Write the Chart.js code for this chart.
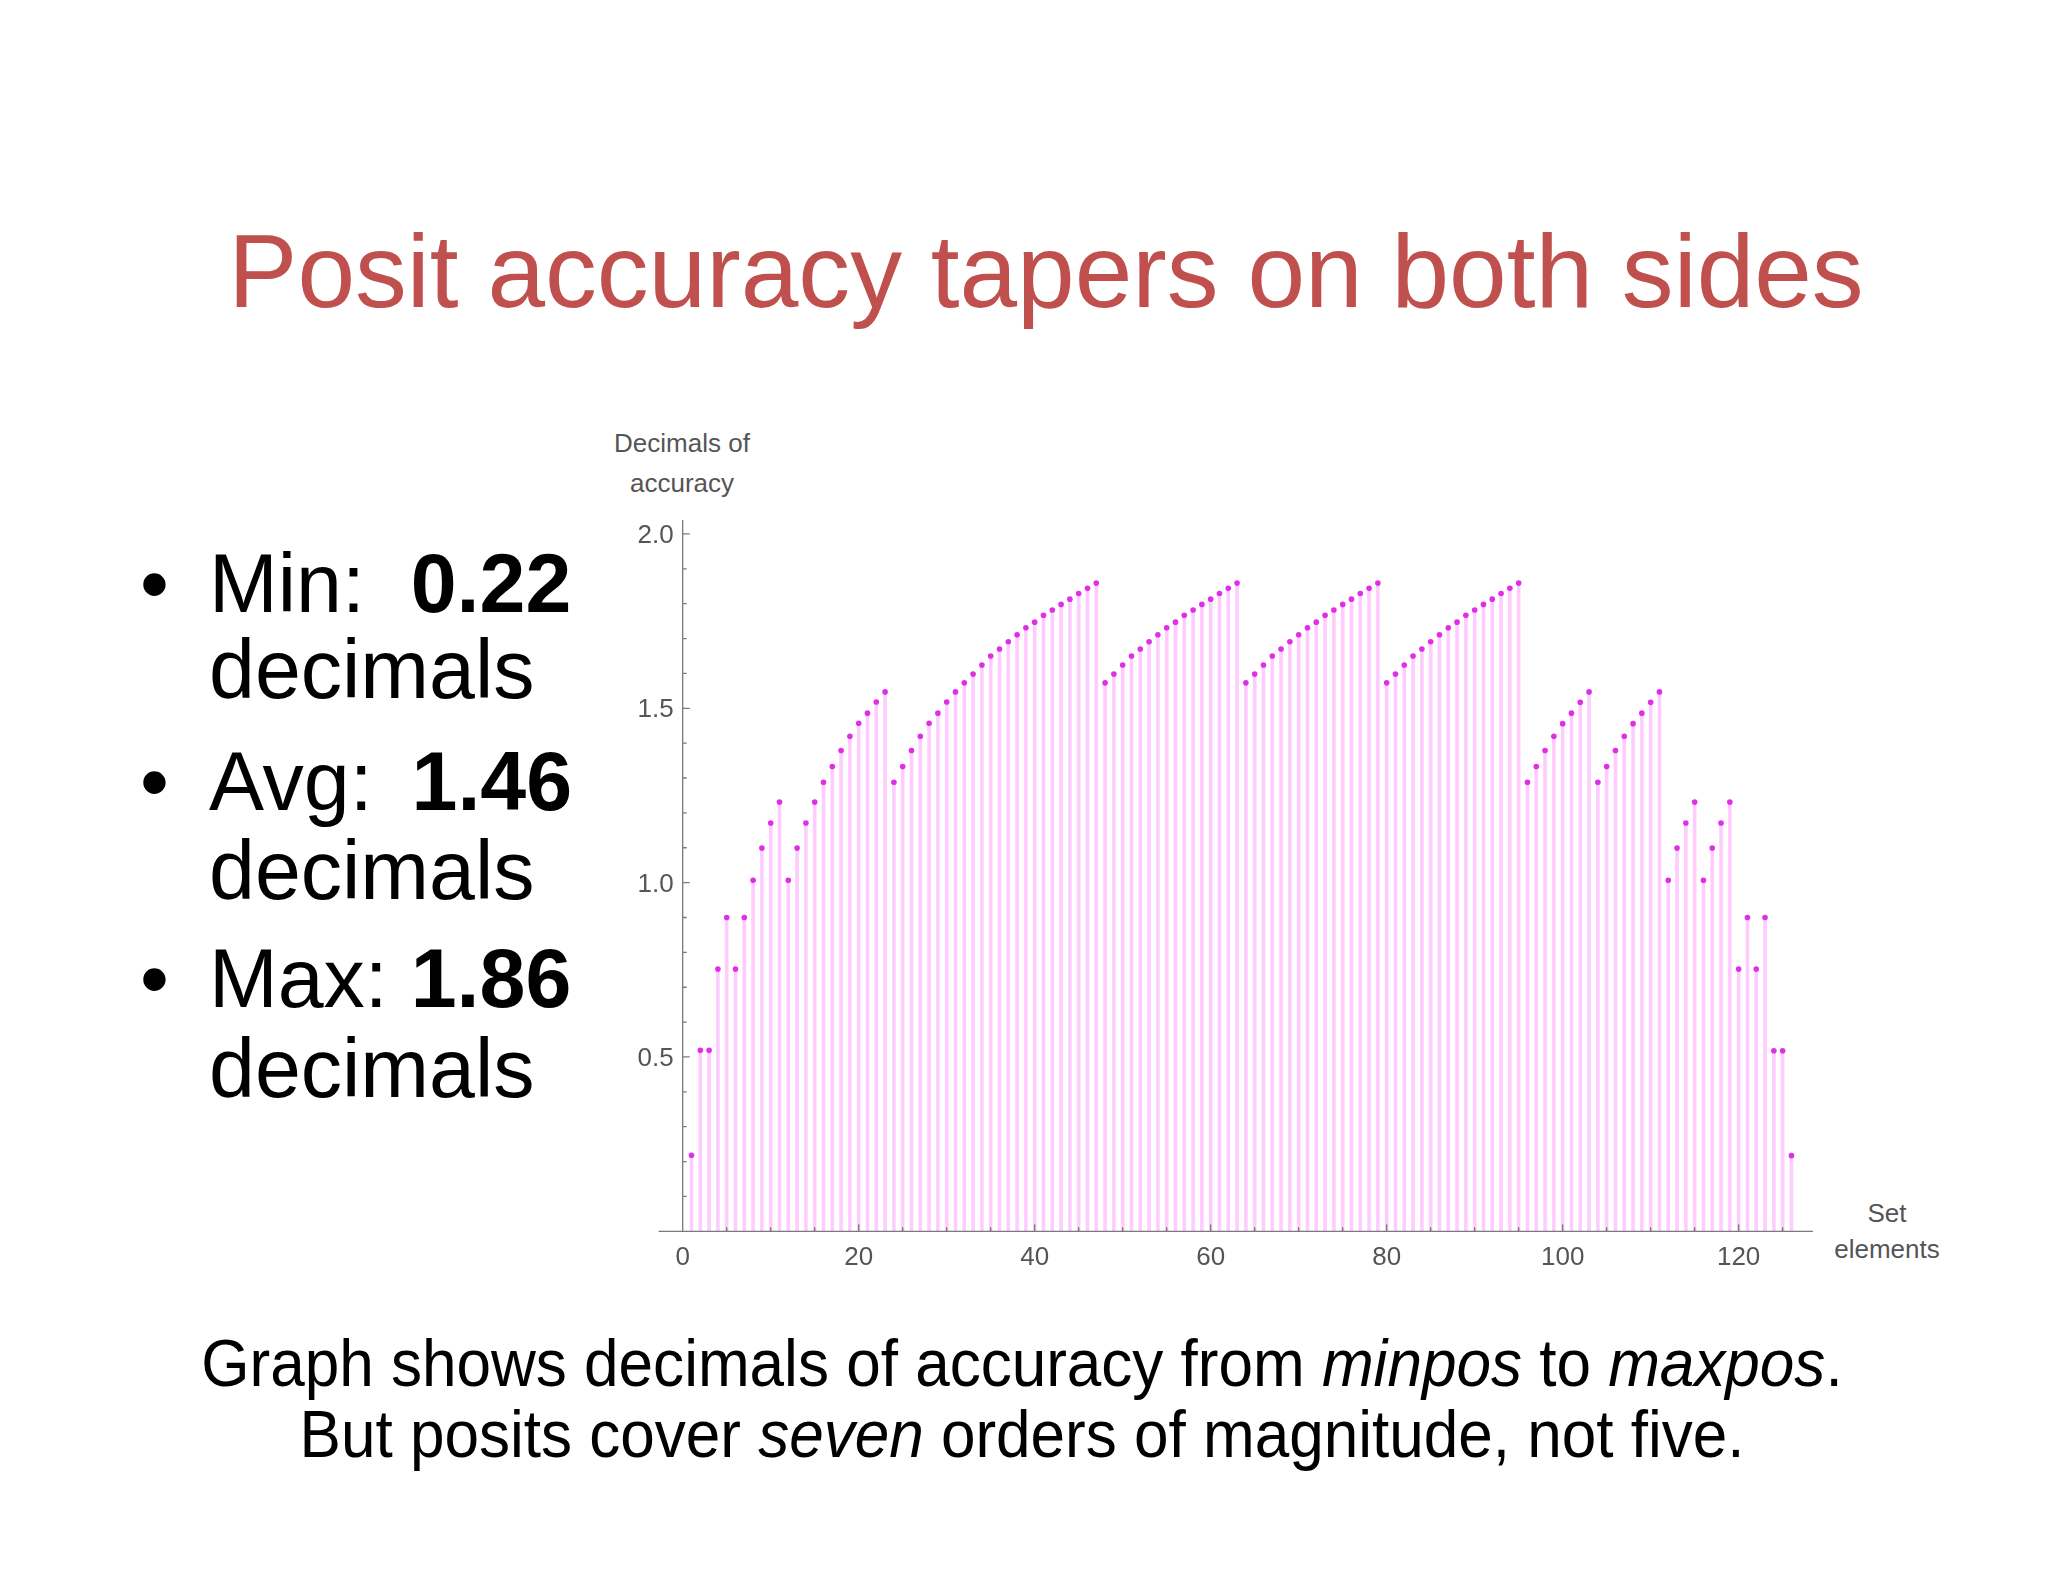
<!DOCTYPE html>
<html>
<head>
<meta charset="utf-8">
<title>Posit accuracy tapers on both sides</title>
<script src="https://cdn.jsdelivr.net/npm/chart.js@4.4.1/dist/chart.umd.min.js"></script>
<style>
  html, body { margin: 0; padding: 0; background: #fff; }
  body {
    width: 2048px; height: 1582px; position: relative; overflow: hidden;
    font-family: 'Liberation Sans', Arial, Helvetica, sans-serif;
  }
  #chart { position: absolute; left: 0; top: 0; }
  .t { position: absolute; line-height: 1; white-space: nowrap; }
  .title { font-size: 103.6px; color: #c0504d; left: 1046px; top: 220px; transform: translateX(-50%); }
  .bul { font-size: 82.5px; color: #000; }
  .note { font-size: 66px; color: #000; left: 1022px; transform: translateX(-50%) scaleX(0.94); }
  .axt { font-size: 26px; color: #555; transform: translateX(-50%); text-align: center; }
</style>
</head>
<body>
<div class="t title">Posit accuracy tapers on both sides</div>

<div class="t bul" style="left:140px; top:542px;">&bull;</div>
<div class="t bul" style="left:209px; top:542px;">Min:&nbsp;&nbsp;<b>0.22</b></div>
<div class="t bul" style="left:209px; top:628px;">decimals</div>
<div class="t bul" style="left:140px; top:740px;">&bull;</div>
<div class="t bul" style="left:209px; top:740px;">Avg:&nbsp;<b style="margin-left:16px">1.46</b></div>
<div class="t bul" style="left:209px; top:829px;">decimals</div>
<div class="t bul" style="left:140px; top:937px;">&bull;</div>
<div class="t bul" style="left:209px; top:937px;">Max:&nbsp;<b>1.86</b></div>
<div class="t bul" style="left:209px; top:1027px;">decimals</div>

<div class="t axt" style="left:682px; top:430px;">Decimals of</div>
<div class="t axt" style="left:682px; top:470px;">accuracy</div>
<div class="t axt" style="left:1887px; top:1200px;">Set</div>
<div class="t axt" style="left:1887px; top:1236px;">elements</div>

<div class="t note" style="top:1330px;">Graph shows decimals of accuracy from <i>minpos</i> to <i>maxpos</i>.</div>
<div class="t note" style="top:1401px;">But posits cover <i>seven</i> orders of magnitude, not five.</div>

<canvas id="chart" width="2048" height="1582"></canvas>

<script>
// decimals of accuracy for set elements 1 (minpos) .. 126 (maxpos)
const accuracy = [
  0.218,
  0.519, 0.519,
  0.752, 0.900, 0.752, 0.900,
  1.007, 1.099, 1.171, 1.231, 1.007, 1.099, 1.171, 1.231,
  1.288, 1.333, 1.379, 1.420, 1.457, 1.486, 1.518, 1.547,
  1.288, 1.333, 1.379, 1.420, 1.457, 1.486, 1.518, 1.547,
  1.573, 1.598, 1.624, 1.650, 1.670, 1.691, 1.711, 1.731, 1.747, 1.767, 1.782, 1.798, 1.813, 1.829, 1.844, 1.859,
  1.573, 1.598, 1.624, 1.650, 1.670, 1.691, 1.711, 1.731, 1.747, 1.767, 1.782, 1.798, 1.813, 1.829, 1.844, 1.859,
  1.573, 1.598, 1.624, 1.650, 1.670, 1.691, 1.711, 1.731, 1.747, 1.767, 1.782, 1.798, 1.813, 1.829, 1.844, 1.859,
  1.573, 1.598, 1.624, 1.650, 1.670, 1.691, 1.711, 1.731, 1.747, 1.767, 1.782, 1.798, 1.813, 1.829, 1.844, 1.859,
  1.288, 1.333, 1.379, 1.420, 1.456, 1.486, 1.517, 1.547,
  1.288, 1.333, 1.379, 1.420, 1.456, 1.486, 1.517, 1.547,
  1.007, 1.099, 1.171, 1.231, 1.007, 1.099, 1.171, 1.231,
  0.752, 0.900, 0.752, 0.900,
  0.518, 0.518,
  0.217
];
const xTicks = [0, 20, 40, 60, 80, 100, 120];
const yTicks = [0.5, 1.0, 1.5, 2.0];

const stemColor = 'rgba(255, 0, 255, 0.2)';
const dotColor = '#e02ee6';
const axisColor = '#7a7a7a';
const labelColor = '#555';
const labelFont = { family: "'Liberation Sans', Arial, sans-serif", size: 26 };

const points = accuracy.map((v, i) => ({ x: i + 1, y: v }));

// Mathematica style axes: crossing at origin, ticks pointing inward, minor ticks
const mmaAxes = {
  id: 'mmaAxes',
  afterDatasetsDraw(chart) {
    const { ctx, chartArea: a, scales: { x, y } } = chart;
    const x0 = x.getPixelForValue(0);
    const y0 = y.getPixelForValue(0);
    ctx.save();
    ctx.strokeStyle = axisColor;
    ctx.lineWidth = 1.3;
    ctx.beginPath();
    ctx.moveTo(a.left - 24, y0);
    ctx.lineTo(a.right, y0);
    ctx.moveTo(x0, y0);
    ctx.lineTo(x0, a.top);
    for (let k = 1; k * 5 <= x.max; k++) {
      const px = x.getPixelForValue(k * 5);
      const len = k % 4 === 0 ? 7 : 4;
      ctx.moveTo(px, y0);
      ctx.lineTo(px, y0 - len);
    }
    for (let k = 1; k / 10 <= y.max; k++) {
      const py = y.getPixelForValue(k / 10);
      const len = k % 5 === 0 ? 7 : 4;
      ctx.moveTo(x0, py);
      ctx.lineTo(x0 + len, py);
    }
    ctx.stroke();
    ctx.restore();
  }
};

new Chart(document.getElementById('chart'), {
  type: 'bar',
  data: {
    datasets: [
      {
        type: 'scatter',
        data: points,
        pointRadius: 2.8,
        pointBackgroundColor: dotColor,
        pointBorderWidth: 0,
        order: 0
      },
      {
        type: 'bar',
        data: points,
        backgroundColor: stemColor,
        borderWidth: 0,
        barThickness: 3,
        grouped: false,
        order: 1
      }
    ]
  },
  options: {
    responsive: false,
    devicePixelRatio: 1,
    animation: false,
    events: [],
    layout: { padding: { left: 602.7, right: 235, top: 520, bottom: 300.7 } },
    plugins: { legend: { display: false }, tooltip: { enabled: false } },
    scales: {
      x: {
        type: 'linear',
        min: 0,
        max: 128.45,
        offset: false,
        afterBuildTicks: s => { s.ticks = xTicks.map(v => ({ value: v })); },
        afterFit: s => { s.height = 50; },
        grid: { display: false, drawTicks: false },
        border: { display: false },
        ticks: {
          padding: 11,
          maxRotation: 0,
          autoSkip: false,
          color: labelColor,
          font: labelFont,
          callback: v => String(v)
        }
      },
      y: {
        type: 'linear',
        min: 0,
        max: 2.04,
        afterBuildTicks: s => { s.ticks = yTicks.map(v => ({ value: v })); },
        afterFit: s => { s.width = 80; },
        grid: { display: false, drawTicks: false },
        border: { display: false },
        ticks: {
          padding: 9,
          labelOffset: 2,
          color: labelColor,
          font: labelFont,
          callback: v => v.toFixed(1)
        }
      }
    }
  },
  plugins: [mmaAxes]
});
</script>
</body>
</html>
